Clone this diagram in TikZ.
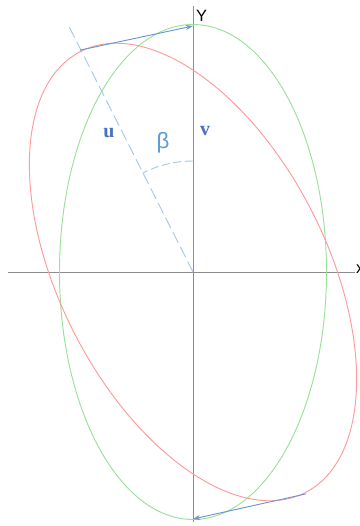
\documentclass[tikz,border=0pt]{standalone}
\usepackage{fontspec}
\newfontfamily\lblsans{Liberation Sans}
\newfontfamily\lblserif{Liberation Serif}
\usepackage{tikz}
\usetikzlibrary{arrows.meta,calc}
\definecolor{caxis}{HTML}{8C8C8C}
\definecolor{cvec}{HTML}{6A96D2}
\definecolor{cdash}{HTML}{A4C8EE}
\definecolor{cgreen}{HTML}{9AE09A}
\definecolor{cred}{HTML}{FF9A9A}
\definecolor{clbl}{HTML}{4472C4}
\definecolor{cbeta}{HTML}{5B9BD5}
\tikzset{
  axisln/.style={draw=caxis, line width=0.8pt},
  vecln/.style={draw=cvec, line width=0.8pt},
  pre/.style={-{Stealth[length=2.2mm,width=1.5mm]}, vecln},
  greenell/.style={draw=cgreen, line width=0.8pt},
  redell/.style={draw=cred, line width=0.8pt},
  uline/.style={draw=cdash, line width=0.8pt, dash pattern=on 10pt off 4pt},
  arcln/.style={draw=cdash, line width=0.8pt, dash pattern=on 7pt off 3pt},
  axlbl/.style={font=\lblsans\fontsize{14}{14}\selectfont, text=black, inner sep=0pt},
  veclbl/.style={font=\lblserif\bfseries\fontsize{17}{17}\selectfont, text=clbl, inner sep=0pt},
  anglbl/.style={font=\lblsans\fontsize{19}{19}\selectfont, text=cbeta, inner sep=0pt},
}

\begin{document}
\begin{tikzpicture}[x=0.03cm,y=0.03cm]
\useasboundingbox (-193,-254) rectangle (167,272);
\coordinate (O) at (0,0);
\coordinate (xl) at (-185,0);
\coordinate (xr) at (162,0);
\coordinate (ytop) at (0,266);
\coordinate (ybot) at (0,-250);
\coordinate (gtop) at (0,246);
\coordinate (gbot) at (0,-247);
\coordinate (rtop) at (117:249);
\coordinate (rbot) at (-63:249);
\coordinate (uend) at (116.8:277);
% axes
\draw[axisln] (xl) -- (xr);
\draw[axisln] (O) -- (ybot);
\draw[vecln] (O) -- (ytop);
\node[axlbl, anchor=base west] (ylab) at (3,250) {Y};
\node[axlbl, anchor=base west] (xlab) at (163,-1) {x};
% ellipses
\draw[greenell] (O) ellipse [x radius=133.5, y radius=247.5];
\draw[redell, rotate around={27:(O)}] (O) ellipse [x radius=133.5, y radius=247.5];
% u direction and angle
\draw[uline] (O) -- (uend);
\draw[arcln] ($(O)+(90:111)$) arc (90:117:111);
\node[veclbl] (ulab) at (-84,139) {u};
\node[veclbl] (vlab) at (12,141) {v};
\node[anglbl] (blab) at (-30,129) {β};
% shift vectors
\draw[pre] (rtop) -- (gtop);
\draw[pre] (rbot) -- (gbot);
\end{tikzpicture}
\end{document}
